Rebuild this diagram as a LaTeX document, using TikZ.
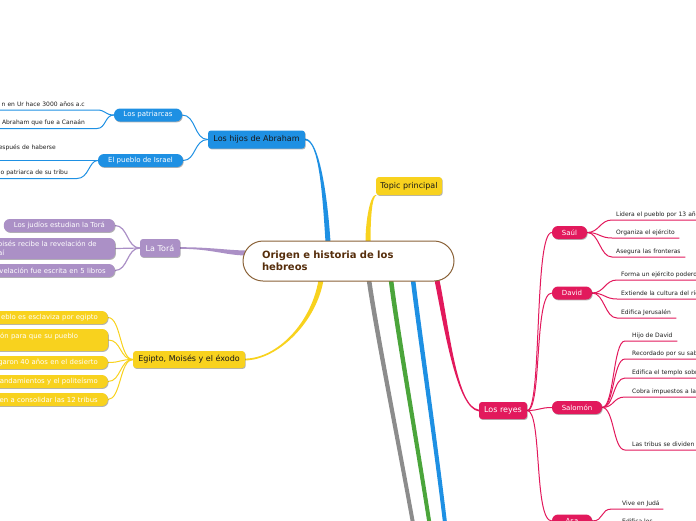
\documentclass[tikz,border=0pt]{standalone}
\usepackage{fontspec}
\setmainfont{DejaVu Sans}
\usetikzlibrary{calc,shadows}
\pgfdeclarelayer{bg}
\pgfsetlayers{bg,main}
\definecolor{cblue}{HTML}{1E90E3}
\definecolor{cyel}{HTML}{F8D21E}
\definecolor{cpur}{HTML}{AB90C6}
\definecolor{cred}{HTML}{E2195C}
\definecolor{cgray}{HTML}{8C8C8C}
\definecolor{cgreen}{HTML}{4BA53B}
\definecolor{cbrown}{HTML}{8A6238}
\definecolor{ctext}{HTML}{562E0C}
\definecolor{cleaf}{HTML}{1E1E1E}
\newcommand\mmtaper[7]{\fill[#1] ($#2+#6$) .. controls ($#3+#6$) and ($#4+#7$) .. ($#5+#7$) -- ($#5-#7$) .. controls ($#4-#7$) and ($#3-#6$) .. ($#2-#6$) -- cycle;}
\newcommand\lpad[1]{\hspace*{#1pt}}
\begin{document}
\begin{tikzpicture}[x=1pt,y=-1pt,
  shad/.style={drop shadow={shadow xshift=0.7pt,shadow yshift=-0.9pt,opacity=0.3,fill=black}},
  basebox/.style={inner sep=0pt, align=center, shad},
  lvltwo/.style={basebox, rounded corners=3pt, font=\fontsize{8}{9.6}\selectfont, minimum height=18pt},
  boxb/.style={lvltwo, fill=cblue, text=black!90},
  boxy/.style={lvltwo, fill=cyel, text=black!90},
  boxp/.style={lvltwo, fill=cpur, text=white},
  boxr/.style={lvltwo, fill=cred, text=white},
  subbox/.style={basebox, rounded corners=6pt, font=\fontsize{7}{8.4}\selectfont, minimum height=13pt, text=white},
  subb/.style={subbox, fill=cblue},
  subr/.style={subbox, fill=cred},
  cleafbox/.style={basebox, rounded corners=6pt, font=\fontsize{6.9}{9}\selectfont, text=white, inner xsep=10pt, minimum height=13pt},
  leafy/.style={cleafbox, fill=cyel},
  leafp/.style={cleafbox, fill=cpur},
  rleaf/.style={inner xsep=0pt, inner ysep=2pt, text depth=1.5pt, font=\fontsize{6}{8}\selectfont, text=cleaf, align=left, anchor=south west},
  lleaf/.style={inner xsep=0pt, inner ysep=2pt, text depth=1.5pt, font=\fontsize{6}{8}\selectfont, text=cleaf, align=right, anchor=south east, text width=130pt},
  cnode/.style={draw=cbrown, line width=1pt, fill=white, rounded corners=20pt, minimum width=211pt, minimum height=40pt, text width=173pt, align=left, font=\bfseries\fontsize{10}{12}\selectfont, text=ctext, inner sep=0pt},
  thin/.style={line width=1pt}
]
\useasboundingbox (0,0) rectangle (696,520);

% central
\node[cnode] (c) at (348.5,261) {Origen e historia de los\\hebreos};
\coordinate (cT1) at (328,242);
\coordinate (cT2) at (368,242);
\coordinate (cL) at (245,253);
\coordinate (cB1) at (321,280);
\coordinate (cB2) at (369,280);
\coordinate (cB3) at (391,280);
\coordinate (cB4) at (413,280);
\coordinate (cB5) at (437,280);
\coordinate (eG) at (416,540);
\coordinate (eN) at (432,540);
\coordinate (eB) at (447,540);

% level 2
\node[boxy, minimum width=66pt] (topic) at (409,186) {Topic principal};
\node[boxb, minimum width=97pt] (abr) at (256.5,139.5) {Los hijos de Abraham};
\node[boxp, minimum width=40pt] (tora) at (160,248) {La Torá};
\node[boxy, minimum width=112pt, minimum height=17pt] (egip) at (189,359.5) {Egipto, Moisés y el éxodo};
\node[boxr, minimum width=48pt, minimum height=17pt] (reyes) at (503,410.5) {Los reyes};

% blue
\node[subb, minimum width=68pt] (patr) at (148,115) {Los patriarcas};
\node[subb, minimum width=85pt] (pueblo) at (140.5,160.5) {El pueblo de Israel};
\node[lleaf] (pl1) at (97,110) {n en Ur hace 3000 años a.c\lpad{12}};
\node[lleaf] (pl2) at (97,128.5) {Abraham que fue a Canaán\lpad{12}};
\node[lleaf, text depth=8.5pt] (pu1) at (87,160.5) {espués de haberse\lpad{31}};
\node[lleaf] (pu2) at (77,178.5) {o patriarca de su tribu\lpad{9}};

% purple
\node[leafp, anchor=east] (pj1) at (115,225.5) {Los judíos estudian la Torá};
\node[leafp, anchor=west, text width=109pt, align=left, inner xsep=8pt, minimum height=21pt] (pj2) at (-10,248.5) {oisés recibe la revelación de\\aí};
\node[leafp, anchor=east, text width=120pt, align=right, inner xsep=9pt] (pj3) at (115,270.5) {velación fue escrita en 5 libros};

% yellow
\node[leafy, anchor=east, text width=120pt, align=right] (y1) at (108,317.5) {eblo es esclaviza por egipto};
\node[leafy, anchor=west, text width=102pt, align=left, inner xsep=8pt, minimum height=22pt] (y2) at (-10,340) {ión para que su pueblo\\~};
\node[leafy, anchor=east, text width=120pt, align=right] (y3) at (108,362.5) {garon 40 años en el desierto};
\node[leafy, anchor=east, text width=120pt, align=right] (y4) at (108,381.5) {andamientos y el politeísmo};
\node[leafy, anchor=east, text width=120pt, align=right] (y5) at (108,399.5) {en a consolidar las 12 tribus};

% red kings
\node[subr, minimum width=35pt] (saul) at (569.5,232.5) {Saúl};
\node[subr, minimum width=40pt] (david) at (572,293) {David};
\node[subr, minimum width=50pt] (salomon) at (577,407.5) {Salomón};
\node[subr, minimum width=40pt] (asa) at (572,521) {Asa};

\node[rleaf, text width=120pt] (s1) at (612,220) {\lpad{4}Lidera el pueblo por 13 años};
\node[rleaf, text width=67pt] (s2) at (612,238) {\lpad{4}Organiza el ejército};
\node[rleaf, text width=73pt] (s3) at (612,257) {\lpad{4}Asegura las fronteras};
\node[rleaf, text width=120pt] (d1) at (617,280) {\lpad{4}Forma un ejército poderoso};
\node[rleaf, text width=120pt] (d2) at (617,299) {\lpad{4}Extiende la cultura del río};
\node[rleaf, text width=59pt] (d3) at (617,318) {\lpad{4}Edifica Jerusalén};
\node[rleaf, text width=52pt] (m1) at (625,341) {\lpad{7}Hijo de David};
\node[rleaf, text width=120pt] (m2) at (625,359) {\lpad{7}Recordado por su sabiduría};
\node[rleaf, text width=120pt] (m3) at (625,378) {\lpad{7}Edifica el templo sobre};
\node[rleaf, text width=120pt] (m4) at (625,397) {\lpad{7}Cobra impuestos a las};
\node[rleaf, text width=72pt] (m5) at (625,450) {\lpad{7}Las tribus se dividen};
\node[rleaf, text width=51pt] (k1) at (612,509) {\lpad{10}Vive en Judá};
\node[rleaf, text width=120pt] (k2) at (612,527) {\lpad{10}Edifica los};

\begin{pgfonlayer}{bg}
% main branches
\mmtaper{cblue}{(abr.east)}{(319,139.5)}{(325,195)}{(cT1)}{(0,0.9)}{(-2.5,0)}
\mmtaper{cyel}{(topic.south west)}{(371,196)}{(368,220)}{(cT2)}{(0.8,0)}{(2.5,0)}
\mmtaper{cpur}{(tora.east)}{(210,248)}{(225,252.5)}{(cL)}{(0,0.8)}{(0,2.5)}
\mmtaper{cyel}{(egip.east)}{(278,359)}{(314,322)}{(cB1)}{(0,0.9)}{(2.5,0)}
\mmtaper{cgray}{(cB2)}{(376,330)}{(400,450)}{(eG)}{(2.3,0)}{(2,0)}
\mmtaper{cgreen}{(cB3)}{(397,330)}{(420,460)}{(eN)}{(2.3,0)}{(2,0)}
\mmtaper{cblue}{(cB4)}{(419,330)}{(438,460)}{(eB)}{(2.3,0)}{(2,0)}
\mmtaper{cred}{(cB5)}{(447,330)}{(457,408)}{(reyes.west)}{(2.5,0)}{(0,-0.9)}

% blue thin
\draw[cblue, thin] (abr.west) .. controls (194,139.5) and (196,115) .. (patr.east);
\draw[cblue, thin] (abr.west) .. controls (194,139.5) and (196,160.5) .. (pueblo.east);
\draw[cblue, thin] (pl1.south west) -- (pl1.south east) .. controls +(9,0) and +(-9,0) .. (patr.west);
\draw[cblue, thin] (pl2.south west) -- (pl2.south east) .. controls +(9,0) and +(-9,0) .. (patr.west);
\draw[cblue, thin] (pu1.south west) -- (pu1.south east) .. controls +(6,0) and +(-6,0) .. (pueblo.west);
\draw[cblue, thin] (pu2.south west) -- (pu2.south east) .. controls +(12,0) and +(-9,0) .. (pueblo.west);

% purple thin
\draw[cpur, line width=1.2pt] (tora.west) .. controls +(-13,0) and +(13,0) .. (pj1.east);
\draw[cpur, line width=1.2pt] (tora.west) .. controls +(-13,0) and +(13,0) .. (pj2.east);
\draw[cpur, line width=1.2pt] (tora.west) .. controls +(-13,0) and +(13,0) .. (pj3.east);

% yellow thin
\foreach \n in {y1,y2,y3,y4,y5}
  \draw[cyel, thin] (egip.west) .. controls +(-13,0) and +(13,0) .. (\n.east);

% red thin
\foreach \k in {saul,david,asa}
  \draw[cred, thin] (reyes.east) .. controls +(15,0) and +(-18,0) .. (\k.west);
\draw[cred, thin] (reyes.east) .. controls +(12,0) and +(-12,0) .. (salomon.west);
\foreach \l in {s1,s2,s3}
  \draw[cred, thin] (saul.east) .. controls +(12,0) and +(-12,0) .. (\l.south west) -- (\l.south east);
\foreach \l in {d1,d2,d3}
  \draw[cred, thin] (david.east) .. controls +(12,0) and +(-12,0) .. (\l.south west) -- (\l.south east);
\foreach \l in {m1,m2,m3,m4,m5}
  \draw[cred, thin] (salomon.east) .. controls +(12,0) and +(-12,0) .. (\l.south west) -- (\l.south east);
\foreach \l in {k1,k2}
  \draw[cred, thin] (asa.east) .. controls +(12,0) and +(-12,0) .. (\l.south west) -- (\l.south east);
\end{pgfonlayer}
\end{tikzpicture}
\end{document}
